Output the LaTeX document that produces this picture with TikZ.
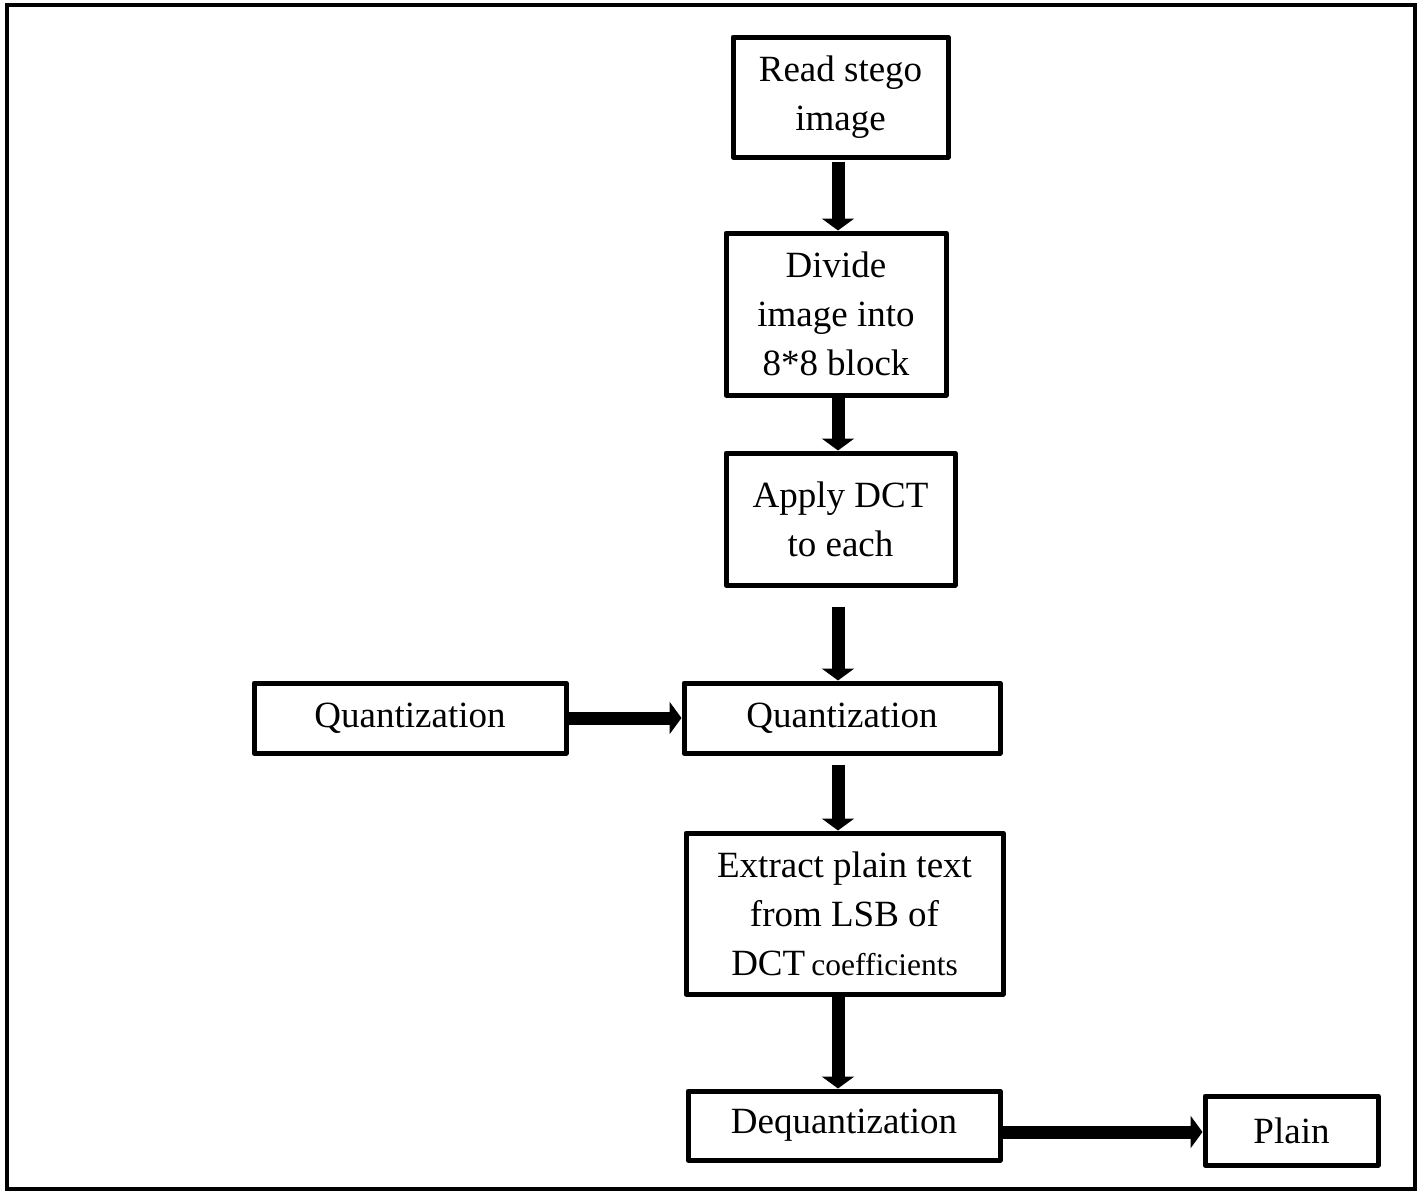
\documentclass[tikz,border=0pt]{standalone}
\usepackage{fontspec}
\setmainfont{Liberation Serif}
\usetikzlibrary{arrows.meta}
\begin{document}
\begin{tikzpicture}[x=1pt,y=-1pt,
  box/.style={draw, line width=5pt, inner sep=0pt, align=center,
    font=\fontsize{37}{49}\selectfont, line join=round},
  bigarrow/.style={line width=13pt, -{Triangle[length=12pt,width=32pt]}}]
\useasboundingbox (0,0) rectangle (1420,1191);
\draw[line width=4pt] (7,5) rectangle (1415,1189);

\node[box, minimum width=215pt, minimum height=120pt] (read) at (840.5,97) {Read stego\\image};
\node[box, minimum width=220pt, minimum height=162pt] (divide) at (836,314) {Divide\\image into\\8*8 block};
\node[box, minimum width=229pt, minimum height=132pt] (apply) at (840.5,519) {Apply DCT\\to each};
\node[box, minimum width=312pt, minimum height=70pt] (quantL) at (410,718) {Quantization};
\node[box, minimum width=316pt, minimum height=70pt] (quantM) at (842,718) {Quantization};
\node[box, minimum width=317pt, minimum height=161pt] (extract) at (844.5,913.5) {Extract plain text\\from LSB of\\DCT\,{\fontsize{31.5}{49}\selectfont coefficients}};
\node[box, minimum width=312pt, minimum height=69pt] (dequant) at (844,1125.5) {Dequantization};
\node[box, minimum width=173pt, minimum height=69pt] (plain) at (1291.5,1130.5) {Plain};

\coordinate (col) at (838,0);
\draw[bigarrow] ([yshift=-2pt]read.south -| col) -- (divide.north -| col);
\draw[bigarrow] (divide.south -| col) -- (apply.north -| col);
\draw[bigarrow] ([yshift=-19pt]apply.south -| col) -- (quantM.north -| col);
\draw[bigarrow] ([yshift=-9pt]quantM.south -| col) -- (extract.north -| col);
\draw[bigarrow] (extract.south -| col) -- (dequant.north -| col);
\draw[bigarrow] (quantL.east) -- (quantM.west);
\coordinate (row) at (0,1132);
\draw[bigarrow] (dequant.east |- row) -- (plain.west |- row);
\end{tikzpicture}
\end{document}
